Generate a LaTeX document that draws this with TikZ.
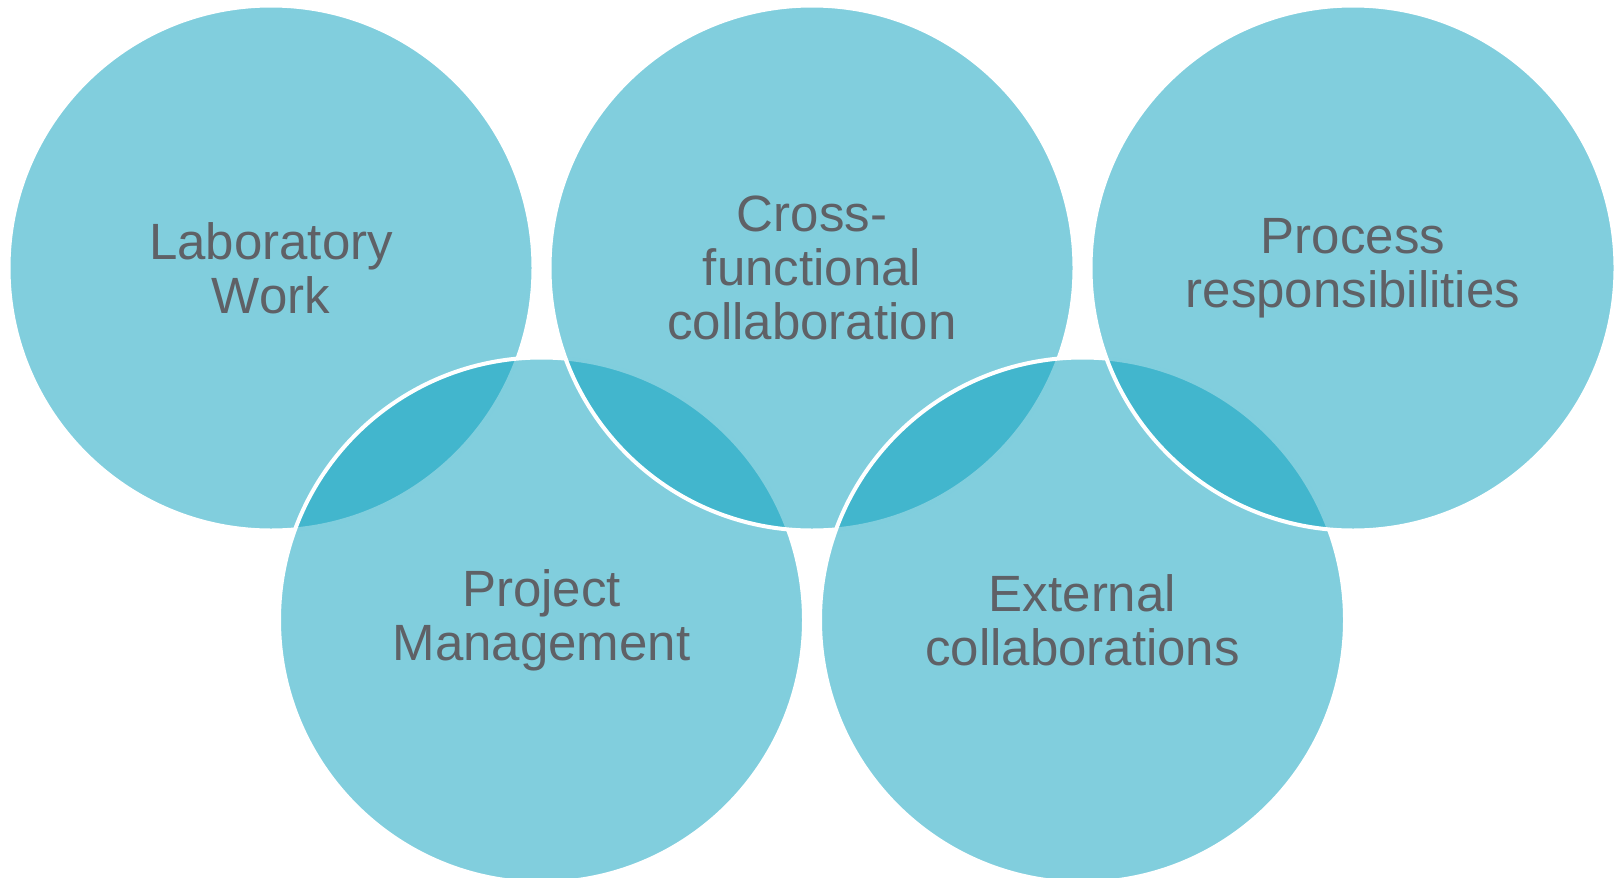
\documentclass[tikz,border=0pt]{standalone}
\usepackage{fontspec}
\setmainfont{Liberation Sans}
\usepackage{xcolor}
\usetikzlibrary{positioning}
\definecolor{ringblue}{RGB}{7,159,189}
\definecolor{labelgrey}{RGB}{95,97,102}
\tikzstyle{ring} = [circle, draw=white, line width=4pt, fill=ringblue,
fill opacity=0.51, text opacity=1, minimum size=525pt, inner sep=0pt,
text=labelgrey, align=center, font=\fontsize{51}{54}\selectfont]

\begin{document}
\begin{tikzpicture}[x=1pt, y=-1pt, node distance=541pt]
	\useasboundingbox (0,0) rectangle (1617,878);
	
	\node [ring] (lab) at (271,268) {Laboratory\\ Work};
	\node [ring, on grid, below right=352pt and 270.5pt of lab] (project) {Project\\ Management};
	\node [ring, right of=lab] (cross) {Cross-\\ functional\\ collaboration};
	\node [ring, right of=project] (external) {External\\ collaborations};
	\node [ring, right of=cross] (process) {Process\\ responsibilities};
\end{tikzpicture}
\end{document}
